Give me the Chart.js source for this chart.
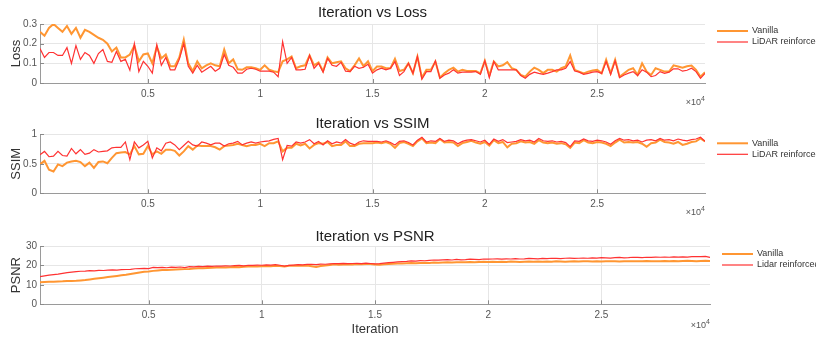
<!DOCTYPE html>
<html>
<head>
<meta charset="utf-8">
<script src="https://cdn.jsdelivr.net/npm/chart.js@4.4.1/dist/chart.umd.min.js"></script>
<style>
  html, body { margin: 0; padding: 0; background: #fff; }
  .panel { position: absolute; left: 0; width: 816px; }
</style>
</head>
<body>
<div class="panel" style="top:0;height:112px"><canvas id="lossChart"></canvas></div>
<div class="panel" style="top:112px;height:112px"><canvas id="ssimChart"></canvas></div>
<div class="panel" style="top:224px;height:119px"><canvas id="psnrChart"></canvas></div>
<script>
// iterations logged every 200 steps, 200 .. 29800
const iterations = Array.from({ length: 149 }, (_, i) => 200 + i * 200);
const xTicks = [5000, 10000, 15000, 20000, 25000];
const lossTicks = [0, 0.1, 0.2, 0.3];
const ssimTicks = [0, 0.5, 1];
const psnrTicks = [0, 10, 20, 30];

const lossVanilla = [
  0.26, 0.24, 0.28, 0.30, 0.28, 0.26, 0.29, 0.25, 0.28, 0.23,
  0.27, 0.26, 0.245, 0.23, 0.22, 0.20, 0.16, 0.18, 0.13, 0.13,
  0.145, 0.19, 0.11, 0.145, 0.15, 0.10, 0.185, 0.125, 0.145, 0.085,
  0.085, 0.13, 0.22, 0.10, 0.06, 0.11, 0.075, 0.09, 0.10, 0.09,
  0.085, 0.17, 0.10, 0.12, 0.07, 0.067, 0.08, 0.08, 0.075, 0.067,
  0.09, 0.067, 0.06, 0.055, 0.11, 0.12, 0.135, 0.075, 0.085, 0.09,
  0.14, 0.09, 0.105, 0.06, 0.13, 0.10, 0.105, 0.11, 0.075, 0.06,
  0.09, 0.125, 0.085, 0.11, 0.06, 0.084, 0.084, 0.075, 0.075, 0.123,
  0.061, 0.067, 0.10, 0.049, 0.135, 0.027, 0.067, 0.067, 0.109, 0.027,
  0.049, 0.067, 0.078, 0.058, 0.067, 0.061, 0.061, 0.061, 0.049, 0.113,
  0.038, 0.109, 0.084, 0.09, 0.106, 0.075, 0.067, 0.041, 0.032, 0.058,
  0.078, 0.067, 0.05, 0.067, 0.067, 0.058, 0.075, 0.084, 0.14, 0.067,
  0.058, 0.049, 0.058, 0.064, 0.067, 0.049, 0.118, 0.049, 0.118, 0.032,
  0.049, 0.067, 0.075, 0.041, 0.10, 0.058, 0.041, 0.075, 0.067, 0.058,
  0.058, 0.09, 0.084, 0.078, 0.085, 0.089, 0.067, 0.032, 0.055
];
const lossLidar = [
  0.175, 0.13, 0.155, 0.155, 0.14, 0.14, 0.18, 0.10, 0.19, 0.12,
  0.155, 0.14, 0.10, 0.15, 0.17, 0.11, 0.105, 0.16, 0.11, 0.12,
  0.065, 0.20, 0.058, 0.11, 0.085, 0.05, 0.195, 0.09, 0.13, 0.067,
  0.067, 0.12, 0.20, 0.085, 0.05, 0.09, 0.055, 0.07, 0.085, 0.06,
  0.075, 0.145, 0.09, 0.08, 0.05, 0.05, 0.07, 0.075, 0.07, 0.06,
  0.06, 0.06, 0.055, 0.032, 0.21, 0.10, 0.13, 0.067, 0.067, 0.07,
  0.14, 0.075, 0.10, 0.055, 0.125, 0.09, 0.085, 0.105, 0.06, 0.058,
  0.085, 0.075, 0.08, 0.095, 0.05, 0.067, 0.075, 0.067, 0.075, 0.109,
  0.038, 0.058, 0.10, 0.049, 0.135, 0.02, 0.058, 0.058, 0.113, 0.024,
  0.041, 0.05, 0.067, 0.05, 0.055, 0.055, 0.055, 0.058, 0.044, 0.113,
  0.027, 0.109, 0.067, 0.067, 0.067, 0.067, 0.067, 0.038, 0.024, 0.044,
  0.055, 0.049, 0.044, 0.05, 0.058, 0.067, 0.067, 0.075, 0.109, 0.061,
  0.055, 0.044, 0.049, 0.055, 0.058, 0.049, 0.109, 0.044, 0.113, 0.027,
  0.041, 0.05, 0.058, 0.038, 0.067, 0.055, 0.032, 0.038, 0.058, 0.049,
  0.055, 0.072, 0.072, 0.06, 0.065, 0.075, 0.058, 0.024, 0.049
];

const ssimVanilla = [
  0.49, 0.55, 0.40, 0.37, 0.49, 0.46, 0.52, 0.54, 0.55, 0.53,
  0.46, 0.52, 0.43, 0.53, 0.54, 0.51, 0.60, 0.68, 0.69, 0.70,
  0.66, 0.80, 0.66, 0.67, 0.80, 0.66, 0.71, 0.67, 0.74, 0.74,
  0.72, 0.64, 0.71, 0.80, 0.74, 0.81, 0.80, 0.80, 0.80, 0.78,
  0.74, 0.80, 0.81, 0.82, 0.84, 0.82, 0.80, 0.82, 0.82, 0.84,
  0.80, 0.85, 0.85, 0.88, 0.71, 0.77, 0.77, 0.84, 0.81, 0.84,
  0.76, 0.82, 0.85, 0.84, 0.87, 0.80, 0.82, 0.82, 0.88, 0.80,
  0.80, 0.84, 0.85, 0.85, 0.85, 0.86, 0.85, 0.87, 0.84, 0.77,
  0.85, 0.87, 0.84, 0.80, 0.88, 0.93, 0.85, 0.86, 0.85, 0.92,
  0.86, 0.87, 0.86, 0.80, 0.85, 0.87, 0.89, 0.86, 0.84, 0.87,
  0.81, 0.90, 0.85, 0.87, 0.78, 0.84, 0.85, 0.88, 0.86, 0.87,
  0.84, 0.90, 0.86, 0.85, 0.86, 0.84, 0.85, 0.83, 0.77, 0.86,
  0.85, 0.90, 0.86, 0.85, 0.87, 0.86, 0.84, 0.80, 0.86, 0.91,
  0.86, 0.87, 0.86, 0.87, 0.84, 0.79, 0.85, 0.86, 0.91, 0.87,
  0.86, 0.84, 0.87, 0.82, 0.84, 0.87, 0.88, 0.93, 0.88
];
const ssimLidar = [
  0.655, 0.71, 0.62, 0.63, 0.71, 0.64, 0.63, 0.76, 0.67, 0.74,
  0.66, 0.68, 0.74, 0.70, 0.71, 0.72, 0.77, 0.78, 0.78, 0.87,
  0.57, 0.87, 0.77, 0.82, 0.88, 0.60, 0.77, 0.72, 0.85, 0.87,
  0.82, 0.74, 0.81, 0.88, 0.82, 0.80, 0.87, 0.85, 0.82, 0.85,
  0.85, 0.80, 0.84, 0.85, 0.88, 0.82, 0.85, 0.87, 0.85, 0.87,
  0.88, 0.89, 0.915, 0.93, 0.57, 0.81, 0.80, 0.87, 0.85, 0.87,
  0.91, 0.84, 0.88, 0.82, 0.89, 0.84, 0.87, 0.85, 0.91, 0.85,
  0.82, 0.87, 0.89, 0.88, 0.88, 0.88, 0.87, 0.89, 0.86, 0.82,
  0.88, 0.89, 0.86, 0.82, 0.90, 0.95, 0.87, 0.89, 0.88, 0.93,
  0.88, 0.90, 0.89, 0.84, 0.88, 0.90, 0.91, 0.89, 0.87, 0.90,
  0.83, 0.92, 0.88, 0.91, 0.86, 0.87, 0.88, 0.91, 0.89, 0.90,
  0.87, 0.93, 0.89, 0.88, 0.89, 0.87, 0.88, 0.86, 0.79, 0.89,
  0.88, 0.92, 0.89, 0.88, 0.90, 0.89, 0.87, 0.83, 0.89, 0.93,
  0.90, 0.91, 0.89, 0.90, 0.87, 0.90, 0.91, 0.89, 0.93, 0.90,
  0.91, 0.89, 0.92, 0.90, 0.89, 0.91, 0.92, 0.95, 0.88
];

const psnrVanilla = [
  11.4, 11.5, 11.6, 11.6, 11.7, 11.8, 12.0, 12.0, 12.1, 12.3,
  12.5, 12.8, 13.1, 13.4, 13.7, 14.0, 14.3, 14.6, 14.9, 15.2,
  15.6, 16.0, 16.4, 16.7, 16.9, 17.2, 17.4, 17.6, 17.7, 17.8,
  17.9, 18.0, 18.1, 18.2, 18.4, 18.5, 18.6, 18.7, 18.8, 18.9,
  19.0, 19.0, 19.1, 19.2, 19.1, 19.3, 19.4, 19.5, 19.4, 19.6,
  19.7, 19.6, 19.8, 19.7, 19.5, 19.8, 19.9, 20.0, 19.8, 19.9,
  19.6, 19.2, 19.7, 20.0, 20.2, 20.6, 20.4, 20.5, 20.6, 20.5,
  20.7, 20.6, 20.8, 20.7, 20.5, 20.4, 20.6, 20.8, 20.9, 21.0,
  21.0, 21.1, 21.2, 21.1, 21.3, 21.4, 21.3, 21.5, 21.4, 21.5,
  21.6, 21.5, 21.6, 21.7, 21.6, 21.8, 21.7, 21.8, 21.9, 21.8,
  21.9, 21.8, 21.9, 21.8, 22.0, 21.9, 21.8, 21.9, 22.0, 21.9,
  22.0, 21.9, 22.0, 21.9, 22.1, 22.0, 21.9, 22.0, 22.1, 22.0,
  22.2, 22.1, 22.0, 22.1, 22.0, 22.1, 22.2, 22.1, 22.0, 22.1,
  22.2, 22.1, 22.2, 22.1, 22.3, 22.2, 22.1, 22.2, 22.3, 22.2,
  22.3, 22.2, 22.3, 22.4, 22.3, 22.2, 22.3, 22.4, 22.3
];
const psnrLidar = [
  14.2, 14.6, 15.0, 15.3, 15.5, 15.9, 16.3, 16.6, 16.8, 17.0,
  17.1, 17.3, 17.2, 17.5, 17.4, 17.6, 17.7, 17.6, 17.8, 17.9,
  18.0, 18.3, 18.4, 18.5, 18.4, 19.0, 18.9, 19.0, 18.8, 19.1,
  19.0, 19.2, 18.9, 19.4, 19.3, 19.5, 19.4, 19.6, 19.5, 19.7,
  19.6, 19.8, 19.7, 19.9, 20.0, 19.8, 20.1, 20.0, 20.2, 20.1,
  20.3, 20.2, 20.4, 20.1, 19.6, 20.0, 20.2, 20.4, 20.3, 20.5,
  20.6, 20.4, 20.7, 20.6, 20.8, 21.0, 20.9, 21.1, 20.9, 21.0,
  21.1, 20.9, 21.2, 21.0, 20.8, 20.9, 21.2, 21.4, 21.6, 21.8,
  22.0, 22.1, 22.3, 22.2, 22.5, 22.4, 22.6, 22.8, 22.7, 22.9,
  23.0, 22.8, 23.1, 22.9, 23.0, 23.2, 23.1, 23.0, 23.3, 23.2,
  23.3, 23.4, 23.2, 23.4, 23.3, 23.5, 23.3, 23.4, 23.6, 23.5,
  23.4, 23.6, 23.5, 23.7, 23.6, 23.5, 23.7, 23.8, 23.6, 23.7,
  23.8, 23.7, 23.9, 23.8, 24.0, 23.9, 23.8, 24.0, 24.1, 23.9,
  24.0, 24.2, 24.1, 24.0, 24.2, 24.1, 24.3, 24.2, 24.3, 24.2,
  24.4, 24.3, 24.4, 24.3, 24.5, 24.6, 24.5, 24.7, 24.1
];

const FONT = '"Liberation Sans", Arial, sans-serif';
Chart.defaults.font.family = FONT;
Chart.defaults.animation = false;

const ORANGE = 'rgb(255, 150, 50)';
const RED = 'rgb(255, 50, 50)';

// inner tick marks, x10^4 note and the small legend at the right
const extras = {
  id: 'extras',
  afterDraw(chart, args, opts) {
    const ctx = chart.ctx;
    const a = chart.chartArea;
    const xs = chart.scales.x, ys = chart.scales.y;
    ctx.save();
    ctx.strokeStyle = '#8a8a8a';
    ctx.lineWidth = 1;
    ctx.beginPath();
    xs.ticks.forEach(t => {
      const px = Math.round(xs.getPixelForValue(t.value)) + 0.5;
      ctx.moveTo(px, a.bottom);
      ctx.lineTo(px, a.bottom - 4);
    });
    ys.ticks.forEach(t => {
      const py = Math.round(ys.getPixelForValue(t.value)) + 0.5;
      ctx.moveTo(a.left, py);
      ctx.lineTo(a.left + 4, py);
    });
    ctx.stroke();

    // x 10^4
    ctx.fillStyle = '#555';
    ctx.textBaseline = 'alphabetic';
    ctx.textAlign = 'right';
    ctx.font = '7px ' + FONT;
    const expW = ctx.measureText('4').width;
    ctx.fillText('4', a.right, a.bottom + opts.expY - 4);
    ctx.font = '9px ' + FONT;
    ctx.fillText('\u00d710', a.right - expW, a.bottom + opts.expY);

    // legend
    ctx.textAlign = 'left';
    ctx.textBaseline = 'middle';
    ctx.font = '9px ' + FONT;
    chart.data.datasets.forEach((ds, i) => {
      const y = a.top + opts.legendTop + i * 11;
      ctx.strokeStyle = ds.borderColor;
      ctx.lineWidth = ds.borderWidth;
      ctx.beginPath();
      ctx.moveTo(a.right + 12, y);
      ctx.lineTo(a.right + 43, y);
      ctx.stroke();
      ctx.fillStyle = '#333';
      ctx.fillText(ds.label, a.right + 47, y);
    });
    ctx.restore();
  }
};

function makeChart(id, c) {
  return new Chart(document.getElementById(id), {
    type: 'line',
    data: {
      labels: iterations,
      datasets: [
        { label: 'Vanilla', data: c.vanilla, borderColor: ORANGE, borderWidth: 2, order: 1 },
        { label: c.lidarName, data: c.lidar, borderColor: RED, borderWidth: 1.2, order: 0 }
      ]
    },
    options: {
      responsive: true,
      maintainAspectRatio: false,
      devicePixelRatio: 1,
      layout: { padding: { left: 0, right: 816 - c.plotRight, top: 0, bottom: 0 } },
      elements: { point: { radius: 0 }, line: { tension: 0 } },
      plugins: {
        legend: { display: false },
        tooltip: { enabled: false },
        title: {
          display: true,
          text: c.title,
          fullSize: false,
          color: '#222',
          font: { size: 15, weight: 'normal' },
          padding: c.titlePad
        },
        extras: { legendTop: c.legendTop, expY: c.expY }
      },
      scales: {
        x: {
          type: 'linear',
          min: 200,
          max: 29800,
          afterBuildTicks: s => { s.ticks = xTicks.map(v => ({ value: v })); },
          afterFit: s => { s.height = c.xAxisHeight; },
          ticks: {
            color: '#555',
            font: { size: 10 },
            padding: 5,
            maxRotation: 0,
            callback: v => String(v / 10000)
          },
          grid: { color: '#e6e6e6', drawTicks: false },
          border: { color: '#9a9a9a', width: 1 },
          title: {
            display: !!c.xTitle,
            text: c.xTitle || '',
            color: '#333',
            font: { size: 13 },
            padding: { top: 0, bottom: 6 }
          }
        },
        y: {
          min: c.yTicks[0],
          max: c.yTicks[c.yTicks.length - 1],
          afterBuildTicks: s => { s.ticks = c.yTicks.map(v => ({ value: v })); },
          afterFit: s => { s.width = 40; },
          ticks: { color: '#555', font: { size: 10 }, padding: 3, callback: v => String(v) },
          grid: { color: '#e6e6e6', drawTicks: false },
          border: { color: '#9a9a9a', width: 1 },
          title: {
            display: true,
            text: c.yLabel,
            color: '#333',
            font: { size: 13 },
            padding: { top: 9, bottom: 0 }
          }
        }
      }
    },
    plugins: [extras]
  });
}

makeChart('lossChart', {
  title: 'Iteration vs Loss', yLabel: 'Loss', yTicks: lossTicks,
  vanilla: lossVanilla, lidar: lossLidar, lidarName: 'LiDAR reinforced',
  plotRight: 705, titlePad: { top: 4.0, bottom: 2.0 }, xAxisHeight: 29,
  legendTop: 7, expY: 22
});
makeChart('ssimChart', {
  title: 'Iteration vs SSIM', yLabel: 'SSIM', yTicks: ssimTicks,
  vanilla: ssimVanilla, lidar: ssimLidar, lidarName: 'LiDAR reinforced',
  plotRight: 705, titlePad: { top: 3.0, bottom: 1.3 }, xAxisHeight: 30.7,
  legendTop: 9, expY: 22
});
makeChart('psnrChart', {
  title: 'Iteration vs PSNR', yLabel: 'PSNR', yTicks: psnrTicks,
  vanilla: psnrVanilla, lidar: psnrLidar, lidarName: 'Lidar reinforced',
  plotRight: 710, titlePad: { top: 4.0, bottom: 0 }, xAxisHeight: 38.7,
  legendTop: 8, expY: 24, xTitle: 'Iteration'
});
</script>
</body>
</html>
